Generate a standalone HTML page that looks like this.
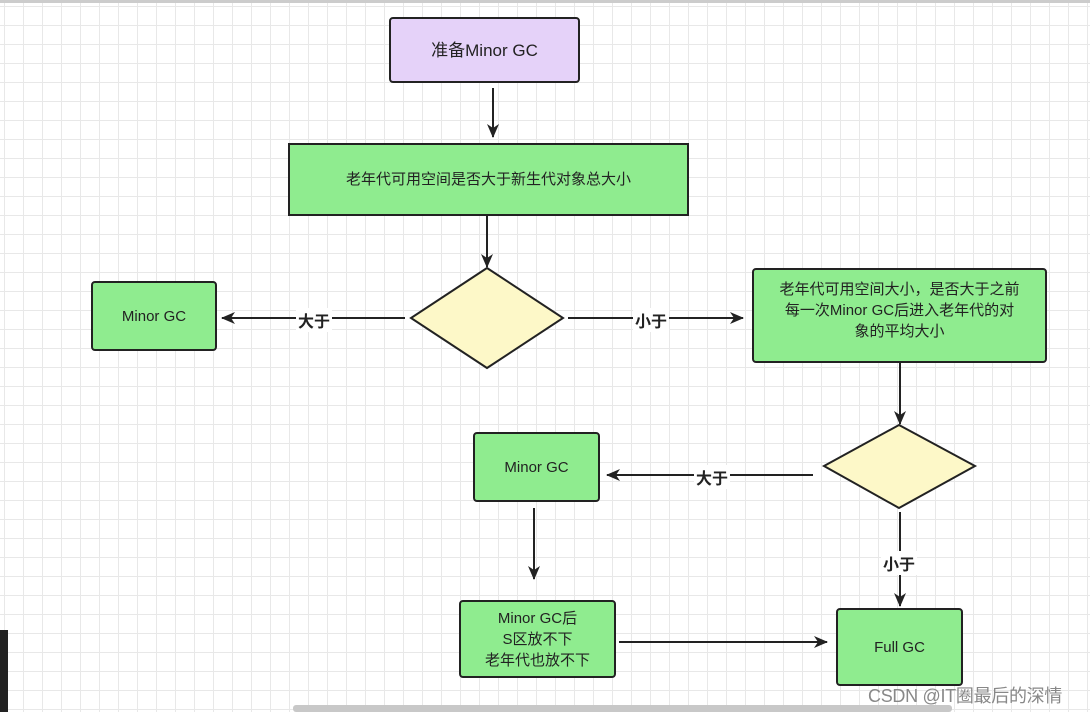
<!DOCTYPE html>
<html><head><meta charset="utf-8"><style>
html,body{margin:0;padding:0;}
body{width:1090px;height:712px;overflow:hidden;position:relative;background:#fff;
background-image:linear-gradient(#e8e8e8 1px,transparent 1px),linear-gradient(90deg,#e8e8e8 1px,transparent 1px);
background-size:19px 19px;background-position:4px 6px;font-family:"Liberation Sans","Noto Sans CJK SC",sans-serif;}
.b{position:absolute;box-sizing:border-box;border:2px solid #222;border-radius:4px;background:#8fec8f;display:flex;align-items:center;justify-content:center;text-align:center;font-size:15px;color:#222;line-height:21px;}
.l{position:absolute;font-size:16px;font-weight:bold;color:#222;background:#fff;padding:0 2px;}
</style></head><body>
<div style="position:absolute;left:0;top:0;width:1090px;height:3px;background:#ccc"></div>
<svg width="1090" height="712" style="position:absolute;left:0;top:0">
<defs><marker id="a" markerWidth="14" markerHeight="12" refX="13" refY="6" orient="auto" markerUnits="userSpaceOnUse"><path d="M0,0 L14,6 L0,12 L4,6 z" fill="#222"/></marker></defs>
<g stroke="#222" stroke-width="2" fill="none">
<line x1="493" y1="88" x2="493" y2="137" marker-end="url(#a)"/>
<line x1="487" y1="216" x2="487" y2="267" marker-end="url(#a)"/>
<line x1="405" y1="318" x2="222" y2="318" marker-end="url(#a)"/>
<line x1="568" y1="318" x2="743" y2="318" marker-end="url(#a)"/>
<line x1="900" y1="362" x2="900" y2="424" marker-end="url(#a)"/>
<line x1="813" y1="475" x2="607" y2="475" marker-end="url(#a)"/>
<line x1="534" y1="508" x2="534" y2="579" marker-end="url(#a)"/>
<line x1="619" y1="642" x2="827" y2="642" marker-end="url(#a)"/>
<line x1="900" y1="512" x2="900" y2="606" marker-end="url(#a)"/>
</g>
<polygon points="487,268 563,318 487,368 411,318" fill="#fdf8c8" stroke="#222" stroke-width="2"/>
<polygon points="899,425 975,466 899,508 824,466" fill="#fdf8c8" stroke="#222" stroke-width="2"/>
</svg>
<div class="b" style="left:389px;top:17px;width:191px;height:66px;background:#e5d2f9;font-size:17px">准备Minor GC</div>
<div class="b" style="left:288px;top:143px;width:401px;height:73px;border-radius:0">老年代可用空间是否大于新生代对象总大小</div>
<div class="b" style="left:91px;top:281px;width:126px;height:70px">Minor GC</div>
<div class="b" style="left:752px;top:268px;width:295px;height:95px;padding-bottom:10px">老年代可用空间大小，是否大于之前<br>每一次Minor GC后进入老年代的对<br>象的平均大小</div>
<div class="b" style="left:473px;top:432px;width:127px;height:70px">Minor GC</div>
<div class="b" style="left:459px;top:600px;width:157px;height:78px">Minor GC后<br>S区放不下<br>老年代也放不下</div>
<div class="b" style="left:836px;top:608px;width:127px;height:78px">Full GC</div>
<div class="l" style="left:296px;top:308px">大于</div>
<div class="l" style="left:633px;top:308px">小于</div>
<div class="l" style="left:694px;top:465px">大于</div>
<div class="l" style="left:881px;top:551px">小于</div>
<div style="position:absolute;left:0;top:630px;width:8px;height:82px;background:#222"></div>
<div style="position:absolute;left:293px;top:705px;width:659px;height:7px;background:#c8c8c8;border-radius:3px"></div>
<div style="position:absolute;left:868px;top:682px;font-size:18px;color:#888;letter-spacing:-0.3px">CSDN @IT圈最后的深情</div>
</body></html>
